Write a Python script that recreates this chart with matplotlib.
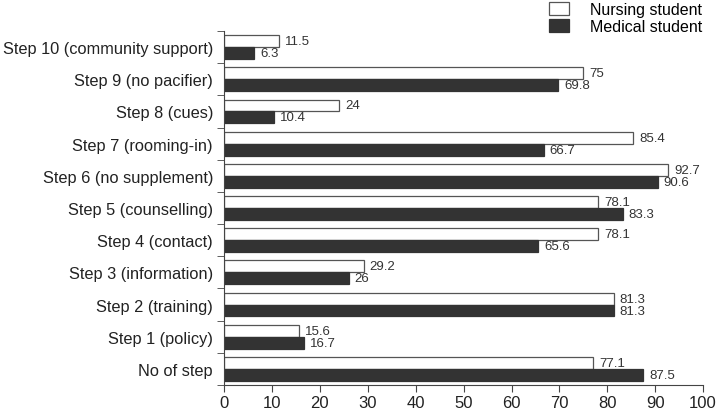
import numpy as np
import matplotlib.pyplot as plt

plt.rcParams['font.family'] = ['Liberation Sans', 'DejaVu Sans']

categories = ['No of step', 'Step 1 (policy)', 'Step 2 (training)', 'Step 3 (information)',
              'Step 4 (contact)', 'Step 5 (counselling)', 'Step 6 (no supplement)',
              'Step 7 (rooming-in)', 'Step 8 (cues)', 'Step 9 (no pacifier)',
              'Step 10 (community support)']
nursing = [77.1, 15.6, 81.3, 29.2, 78.1, 78.1, 92.7, 85.4, 24, 75, 11.5]
medical = [87.5, 16.7, 81.3, 26, 65.6, 83.3, 90.6, 66.7, 10.4, 69.8, 6.3]
nursing_labels = ['77.1', '15.6', '81.3', '29.2', '78.1', '78.1', '92.7', '85.4', '24', '75', '11.5']
medical_labels = ['87.5', '16.7', '81.3', '26', '65.6', '83.3', '90.6', '66.7', '10.4', '69.8', '6.3']


def main():
    fig = plt.figure(figsize=[7.16, 4.10], dpi=100)
    ax = fig.add_axes([0.313, 0.0585, 0.669, 0.8635])

    y = np.arange(len(categories))
    h = 0.37
    ax.barh(y + h / 2, nursing, height=h, color='white', edgecolor='#555555',
            linewidth=0.9, label='Nursing student')
    ax.barh(y - h / 2, medical, height=h, color='#333333', edgecolor='#333333',
            linewidth=0.9, label='Medical student')

    for yi, v, t in zip(y, nursing, nursing_labels):
        ax.text(v + 1.2, yi + h / 2, t, va='center', ha='left', fontsize=9.5, color='#333333')
    for yi, v, t in zip(y, medical, medical_labels):
        ax.text(v + 1.2, yi - h / 2, t, va='center', ha='left', fontsize=9.5, color='#333333')

    ax.set_xlim(0, 100)
    ax.set_ylim(-0.5, len(categories) - 0.5)
    ax.set_xticks(np.arange(0, 101, 10))
    ax.set_yticks(y)
    ax.set_yticklabels(categories, fontsize=11.8, color='#222222')
    ax.set_yticks(np.arange(-0.5, len(categories), 1), minor=True)
    ax.tick_params(axis='y', which='major', length=0, pad=8)
    ax.tick_params(axis='y', which='minor', length=5, direction='out', color='#444444')
    ax.tick_params(axis='x', length=5, direction='out', labelsize=12, color='#444444',
                   labelcolor='#222222', pad=2)

    ax.spines['right'].set_visible(False)
    ax.spines['top'].set_visible(False)
    for s in ['left', 'bottom']:
        ax.spines[s].set_color('#444444')

    ax.legend(loc='upper right', bbox_to_anchor=(1.015, 1.105), frameon=False, fontsize=11.5,
              handlelength=1.3, handleheight=0.9, labelspacing=0.1, borderpad=0,
              handletextpad=1.3)

    fig.savefig('out.png', dpi=100)


main()
